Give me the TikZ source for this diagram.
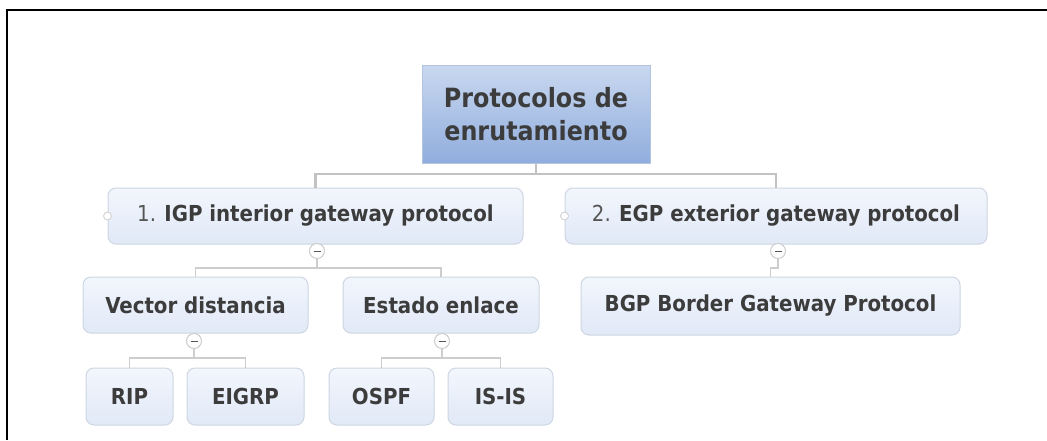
\documentclass[tikz,border=0pt]{standalone}
\usepackage{fontspec}
\setmainfont{DejaVu Sans Condensed}
\definecolor{txt}{HTML}{3C3C3C}
\definecolor{numc}{HTML}{555555}
\definecolor{edgec}{HTML}{CDCDCD}
\definecolor{mainedge}{HTML}{C2C2C2}
\definecolor{boxbd}{HTML}{CDD6E2}
\definecolor{boxtop}{HTML}{F2F6FD}
\definecolor{boxbot}{HTML}{E1E9F7}
\definecolor{roottop}{HTML}{C9D8F0}
\definecolor{rootbot}{HTML}{90ADDD}
\definecolor{rootbd}{HTML}{B3C4E0}
\tikzset{
  topic/.style={draw=boxbd, line width=1pt, rounded corners=8pt, top color=boxtop, bottom color=boxbot,
    text=txt, font=\fontsize{22}{26}\selectfont\bfseries, inner sep=0pt, minimum height=56pt},
  rootbox/.style={draw=rootbd, line width=1pt, top color=roottop, bottom color=rootbot,
    text=txt, font=\fontsize{26.5}{33}\selectfont\bfseries, align=center, inner sep=0pt,
    minimum width=228pt, minimum height=98pt},
  minus/.style={circle, draw=edgec, fill=white, line width=1pt, minimum size=15pt, inner sep=0pt,
    path picture={\draw[numc, line width=1pt] ([xshift=-3.5pt]path picture bounding box.center) -- ([xshift=3.5pt]path picture bounding box.center);}},
  knob/.style={circle, draw=edgec, fill=white, line width=0.8pt, minimum size=8pt, inner sep=0pt},
  conn/.style={draw=edgec, line width=1.5pt},
  mainconn/.style={draw=mainedge, line width=2.2pt},
}
\begin{document}
\begin{tikzpicture}[x=1pt,y=-1pt]
\useasboundingbox (0,0) rectangle (1047,440);
\fill[white] (0,0) rectangle (1047,440);
\draw[black, line width=2pt] (7,440) -- (7,10) -- (1047,10);

% nodes
\node[rootbox] (root) at (536,114) {Protocolos de\\enrutamiento};
\node[topic, minimum width=415pt] (igp) at (315.5,216) {\mdseries\color{numc}1. \bfseries\color{txt}IGP interior gateway protocol};
\node[topic, minimum width=422pt] (egp) at (776,216) {\mdseries\color{numc}2. \bfseries\color{txt}EGP exterior gateway protocol};
\node[topic, minimum width=379pt, minimum height=58pt] (bgp) at (770.5,306) {BGP Border Gateway Protocol};
\node[topic, minimum width=225pt] (vd) at (195.5,305) {Vector distancia};
\node[topic, minimum width=196pt] (ee) at (441,305) {Estado enlace};
\node[topic, minimum width=87pt, minimum height=57pt] (rip) at (129.5,396.5) {RIP};
\node[topic, minimum width=117pt, minimum height=57pt] (eigrp) at (245.5,396.5) {EIGRP};
\node[topic, minimum width=105pt, minimum height=57pt] (ospf) at (381.5,396.5) {OSPF};
\node[topic, minimum width=105pt, minimum height=57pt] (isis) at (500.5,396.5) {IS-IS};

% connectors
\coordinate (rj) at (536,174);
\draw[mainconn] (root.south) -- (rj);
\draw[mainconn] (rj) -| (igp.north);
\draw[mainconn] (rj) -| (egp.north);

\node[minus] (igpm) at (317,251) {};
\node[minus] (egpm) at (778,251) {};
\node[minus] (vdm) at (194,341) {};
\node[minus] (eem) at (442,341) {};
\node[knob] (igpk) at (igp.west) {};
\node[knob] (egpk) at (egp.west) {};

\coordinate (ij) at (317,268);
\draw[conn] (igpm.south) -- (ij);
\draw[conn] (ij) -| (vd.north);
\draw[conn] (ij) -| (ee.north);

\coordinate (ej) at (778,268);
\draw[conn] (egpm.south) -- (ej) -| (bgp.north);

\coordinate (vj) at (194,358);
\draw[conn] (vdm.south) -- (vj);
\draw[conn] (vj) -| (rip.north);
\draw[conn] (vj) -| (eigrp.north);

\coordinate (ejj) at (442,358);
\draw[conn] (eem.south) -- (ejj);
\draw[conn] (ejj) -| (ospf.north);
\draw[conn] (ejj) -| (isis.north);
\end{tikzpicture}
\end{document}
